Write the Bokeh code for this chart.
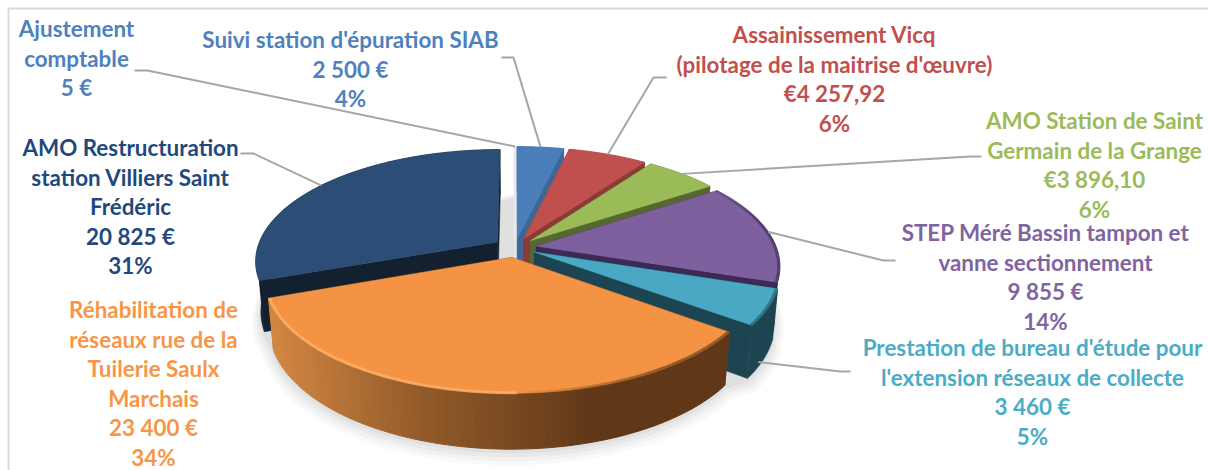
import numpy as np
from bokeh.plotting import figure
from bokeh.core.properties import value
from bokeh.embed import file_html
from bokeh.resources import INLINE

# ---- data ----
names = ["Ajustement comptable", "Suivi station d'épuration SIAB",
         "Assainissement Vicq (pilotage de la maitrise d'œuvre)",
         "AMO Station de Saint Germain de la Grange",
         "STEP Méré Bassin tampon et vanne sectionnement",
         "Prestation de bureau d'étude pour l'extension réseaux de collecte",
         "Réhabilitation de réseaux rue de la Tuilerie Saulx Marchais",
         "AMO Restructuration station Villiers Saint Frédéric"]
amounts = [5, 2500, 4257.92, 3896.10, 9855, 3460, 23400, 20825]
label_lines = [
    ["Ajustement", "comptable", "5 €"],
    ["Suivi station d'épuration SIAB", "2 500 €", "4%"],
    ["Assainissement Vicq", "(pilotage de la maitrise d'œuvre)", "€4 257,92", "6%"],
    ["AMO Station de Saint", "Germain de la Grange", "€3 896,10", "6%"],
    ["STEP Méré Bassin tampon et", "vanne sectionnement", "9 855 €", "14%"],
    ["Prestation de bureau d'étude pour", "l'extension réseaux de collecte", "3 460 €", "5%"],
    ["Réhabilitation de", "réseaux rue de la", "Tuilerie Saulx", "Marchais", "23 400 €", "34%"],
    ["AMO Restructuration", "station Villiers Saint", "Frédéric", "20 825 €", "31%"],
]

# ---- style and layout ----
top_colors = ["#4f81bd", "#4a7ebb", "#c0504d", "#9bbb59", "#7f609e", "#49a9c4", "#f49343", "#2c4d75"]
wall_colors = ["#e6e9ee", "#3d6796", "#8a3a37", "#56682f", "#3b2a54", "#1d4551", "#7a4a20", "#12202f"]
text_colors = ["#4f81bd", "#4f81bd", "#c0504d", "#9bbb59", "#8064a2", "#4bacc6", "#f79646", "#1f497d"]
label_cx = [76, 350, 834, 1094, 1045, 1032, 153, 130]
label_y0 = [28, 39, 34, 120, 232, 347, 309, 147]
line_h = 29.5
elbows = [(134, 147, 70), (501, 513, 57), (666, 653, 77), (981, 970, 156),
          (895, 883, 260), (850, 840, 371), None, (240, 253, 153)]
leader_wall = [0, 0, 0, 0, 0, 0.9, 0, 0]
leader_frac = [0.5, 0.5, 0.5, 0.5, 0.5, 0.7, 0.5, 0.5]

W, H = 1208, 470
cx, cy = 514.5, 247.0
f, g, k, e = 240.0, 109.5, 0.167, 0.09
bx, by, bd = 0.98, 1.044, 49.5

def top_pt(r, th, mid):
    X = e * np.sin(mid) + r * np.sin(th)
    Y = e * np.cos(mid) + r * np.cos(th)
    d = 1 + k * Y
    return cx + f * X / d, cy - g * Y / d

def bot(x, y):
    return cx + bx * (np.asarray(x) - cx), cy + bd + by * (np.asarray(y) - cy)

total = sum(amounts)
edges = np.concatenate([[0], np.cumsum(amounts)]) / total * 2 * np.pi

p = figure(width=W, height=H, x_range=(0, W), y_range=(H, 0),
           toolbar_location=None, output_backend="svg", min_border=0)
p.axis.visible = False
p.grid.visible = False
p.background_fill_color = "white"
p.outline_line_color = None

# chart frame: only its top and left edges are inside the picture
p.line([8, 8, W], [H, 8, 8], line_color="#d9d9d9", line_width=2)

def arc(i, n=80, r=1.0):
    mid = (edges[i] + edges[i + 1]) / 2
    th = np.linspace(edges[i], edges[i + 1], n)
    return top_pt(r, th, mid), th, mid

# soft shadow underneath the solid
all_x, all_y = [], []
for i in range(len(amounts)):
    (x, y), th, mid = arc(i)
    bxv, byv = bot(x, y)
    all_x.extend(bxv); all_y.extend(byv)
all_x, all_y = np.array(all_x), np.array(all_y)
for grow, dy, a in [(1.035, 9, 0.05), (1.025, 7, 0.06), (1.015, 5, 0.07), (1.005, 3, 0.08)]:
    p.patch(cx + grow * (all_x - cx), cy + dy + grow * (all_y - cy),
            fill_color="#808080", fill_alpha=a, line_color=None)

order = [7, 0, 1, 2, 3, 4, 5, 6]
for i in order:
    (x, y), th, mid = arc(i)
    ax, ay = top_pt(0, 0.0, mid)
    bxv, byv = bot(x, y)
    bax, bay = bot(ax, ay)
    wc = wall_colors[i]
    for j in (0, -1):
        p.patch([ax, x[j], bxv[j], bax], [ay, y[j], byv[j], bay], fill_color=wc, line_color=wc, line_width=0.5)
    if i == 6:
        c0 = np.array([96, 56, 24.0]); c1 = np.array([212, 136, 66.0])
        xs, ys, cols = [], [], []
        for s in range(len(x) - 1):
            t = np.clip((x[s] - 420) / (270 - 420), 0, 1) if x[s] < 420 else 0
            t2 = np.clip((x[s] - 600) / (420 - 600), 0, 1)
            mix = 0.45 * t2 + 0.55 * t
            c = c0 + (c1 - c0) * mix
            xs.append([x[s], x[s + 1], bxv[s + 1], bxv[s]])
            ys.append([y[s], y[s + 1], byv[s + 1], byv[s]])
            cols.append("#%02x%02x%02x" % tuple(int(v) for v in c))
        p.patches(xs, ys, fill_color=cols, line_color=cols, line_width=1)
    else:
        p.patch(list(x) + list(bxv[::-1]), list(y) + list(byv[::-1]), fill_color=wc, line_color=wc, line_width=0.5)
    p.patch([ax] + list(x), [ay] + list(y), fill_color=top_colors[i],
            line_color=top_colors[i] if i else "#e6e9ee", line_width=0.5 if i else 3)
    if i == 6:
        (hx, hy), hth, _ = arc(i, 60, 0.997)
        segx, segy, segc, sega = [], [], [], []
        for s in range(len(hx) - 1):
            if hx[s] < 520:
                segc.append("#ffb36b"); sega.append(0.75)
            else:
                segc.append("#8a5426"); sega.append(min(0.9, (hx[s] - 520) / 160))
            segx.append([hx[s], hx[s + 1]]); segy.append([hy[s], hy[s + 1]])
        p.multi_line(segx, segy, line_color=segc, line_alpha=sega, line_width=3)
    if i in (4, 5):
        # dark bevel on the right rim of the purple and teal slices
        (hx, hy), hth, _ = arc(i, 40, 0.995)
        segx = [[hx[s], hx[s + 1]] for s in range(len(hx) - 1)]
        segy = [[hy[s], hy[s + 1]] for s in range(len(hx) - 1)]
        sega = [float(np.clip((hx[s] - 690) / 90, 0, 0.8)) if i == 4 else 0.55 for s in range(len(hx) - 1)]
        p.multi_line(segx, segy, line_color="#4a3666" if i == 4 else "#1d4551", line_alpha=sega, line_width=3)

# leaders
lx, ly = [], []
for i, el in enumerate(elbows):
    if el is None:
        continue
    mid = (edges[i] + edges[i + 1]) / 2
    ang = edges[i] + leader_frac[i] * (edges[i + 1] - edges[i])
    x0, y0 = top_pt(1.0, ang, mid)
    bx0, by0 = bot(x0, y0)
    w = leader_wall[i]
    lx.append([el[0], el[1], float(x0 + w * (bx0 - x0))])
    ly.append([el[2], el[2], float(y0 + w * (by0 - y0))])
p.multi_line(lx, ly, line_color="#a6a6a6", line_width=2)

# labels
tx, ty, tt, tc = [], [], [], []
for i, lines in enumerate(label_lines):
    for n, s in enumerate(lines):
        tx.append(label_cx[i]); ty.append(label_y0[i] + n * line_h); tt.append(s); tc.append(text_colors[i])
p.text(tx, ty, text=tt, text_color=tc, text_font=value("Lato"), text_font_style="bold",
       text_font_size="22.4px", text_align="center", text_baseline="middle")

open("out.html", "w").write(file_html(p, INLINE))
